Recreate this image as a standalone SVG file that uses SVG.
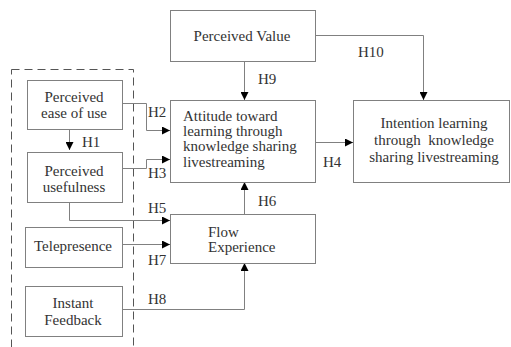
<svg xmlns="http://www.w3.org/2000/svg" width="511" height="347" viewBox="0 0 511 347">
<style>
.box{fill:#fff;stroke:#808080;stroke-width:1}
text{font-family:'Liberation Serif','Times New Roman','DejaVu Serif',serif;font-size:15px;fill:#333}
.c{text-anchor:middle}
.ln{fill:none;stroke:#808080;stroke-width:1}
</style>
<defs>
<marker id="ar" markerWidth="8" markerHeight="8" refX="8" refY="4" orient="auto" markerUnits="userSpaceOnUse">
<path d="M0,0 L8,4 L0,8 Z" fill="#000"/>
</marker>
</defs>
<rect x="11.5" y="69.5" width="122" height="290" fill="none" stroke="#555" stroke-dasharray="8,5"/>
<g id="connectors">
<path class="ln" d="M69.5,130 V150" marker-end="url(#ar)"/>
<path class="ln" d="M122,103.5 H146.5 V130.5 H170" marker-end="url(#ar)"/>
<path class="ln" d="M122,168.5 H146.5 V159.5 H170" marker-end="url(#ar)"/>
<path class="ln" d="M69.5,203 V220.5 H170" marker-end="url(#ar)"/>
<path class="ln" d="M122,244.5 H170" marker-end="url(#ar)"/>
<path class="ln" d="M122,309.5 H244.5 V263" marker-end="url(#ar)"/>
<path class="ln" d="M244.5,214 V182" marker-end="url(#ar)"/>
<path class="ln" d="M244.5,61 V100" marker-end="url(#ar)"/>
<path class="ln" d="M315,35.5 H423.5 V100" marker-end="url(#ar)"/>
<path class="ln" d="M315,142.5 H353" marker-end="url(#ar)"/>
<text x="82" y="147">H1</text>
<text x="148" y="117">H2</text>
<text x="148" y="178">H3</text>
<text x="323" y="167">H4</text>
<text x="148" y="213">H5</text>
<text x="258" y="206">H6</text>
<text x="148" y="265">H7</text>
<text x="148" y="304">H8</text>
<text x="258" y="84">H9</text>
<text x="358" y="57">H10</text>
</g>
<g id="perceived-value">
<rect class="box" x="170.5" y="10.5" width="145" height="51"/>
<text class="c" x="242" y="41" font-size="15.5">Perceived Value</text>
</g>
<g id="ease-of-use">
<rect class="box" x="27.5" y="80.5" width="95" height="49"/>
<text class="c" x="74" y="102" font-size="15.5">Perceived</text>
<text class="c" x="74" y="118" font-size="15.5">ease of use</text>
</g>
<g id="usefulness">
<rect class="box" x="27.5" y="152.5" width="95" height="50"/>
<text class="c" x="74" y="176" font-size="15.5">Perceived</text>
<text class="c" x="74" y="192" font-size="15.5">usefulness</text>
</g>
<g id="telepresence">
<rect class="box" x="25.5" y="227.5" width="97" height="40"/>
<text class="c" x="73" y="251" font-size="15.5">Telepresence</text>
</g>
<g id="instant-feedback">
<rect class="box" x="25.5" y="286.5" width="97" height="50"/>
<text class="c" x="73" y="308" font-size="15.5">Instant</text>
<text class="c" x="73" y="325" font-size="15.5">Feedback</text>
</g>
<g id="attitude">
<rect class="box" x="170.5" y="100.5" width="145" height="82"/>
<text x="183" y="121">Attitude toward</text>
<text x="183" y="136">learning through</text>
<text x="183" y="151">knowledge sharing</text>
<text x="183" y="167">livestreaming</text>
</g>
<g id="flow">
<rect class="box" x="170.5" y="214.5" width="145" height="49"/>
<text x="208" y="237">Flow</text>
<text x="208" y="252">Experience</text>
</g>
<g id="intention">
<rect class="box" x="353.5" y="100.5" width="156" height="82"/>
<text class="c" x="434" y="128" font-size="15.5">Intention learning</text>
<text class="c" x="434" y="145" font-size="15.5" xml:space="preserve">through  knowledge</text>
<text class="c" x="434" y="162" font-size="15.5">sharing livestreaming</text>
</g>
</svg>
